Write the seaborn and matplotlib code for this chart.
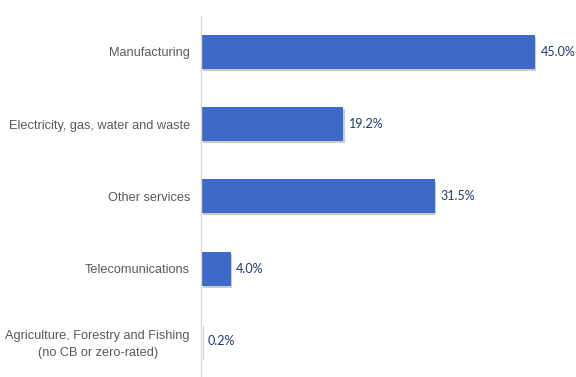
import matplotlib
matplotlib.use("Agg")
import matplotlib.pyplot as plt
import matplotlib.patheffects as pe
import seaborn as sns
import pandas as pd

sectors = [
    "Manufacturing",
    "Electricity, gas, water and waste",
    "Other services",
    "Telecomunications",
    "Agriculture, Forestry and Fishing\n(no CB or zero-rated)",
]
shares = [45.0, 19.2, 31.5, 4.0, 0.2]
value_labels = ["45.0%", "19.2%", "31.5%", "4.0%", "0.2%"]

df = pd.DataFrame({"sector": sectors, "share": shares})

sns.set_style("white")
plt.rcParams["font.family"] = ["Liberation Sans", "DejaVu Sans"]

fig = plt.figure(figsize=(5.76, 3.77), dpi=100)
ax = fig.add_axes([201 / 576, 0.0, (560 - 201) / 576, 0.958])

sns.barplot(data=df, x="share", y="sector", orient="h", color="#3D69C9",
            width=0.47, saturation=1, ax=ax, edgecolor="none")

for bar in ax.patches:
    bar.set_path_effects([
        pe.SimplePatchShadow(offset=(1.2, -1.5), shadow_rgbFace="#9a9a9a", alpha=0.5),
        pe.Normal(),
    ])

ax.bar_label(ax.containers[0], labels=value_labels, padding=4,
             color="#22386F", fontsize=9.0, family=["Lato", "DejaVu Sans"])

ax.set_xlim(0, 48.4)
ax.set_xlabel("")
ax.set_ylabel("")
ax.set_xticks([])
ax.tick_params(axis="y", length=0, pad=8, labelsize=9.2, labelcolor="#595959")
for lbl in ax.get_yticklabels():
    lbl.set_horizontalalignment("right")
    lbl.set_multialignment("center")
    lbl.set_linespacing(1.55)

for side in ["top", "right", "bottom"]:
    ax.spines[side].set_visible(False)
ax.spines["left"].set_color("#d9d9d9")
ax.spines["left"].set_linewidth(1.0)

fig.savefig("out.png", dpi=100)
